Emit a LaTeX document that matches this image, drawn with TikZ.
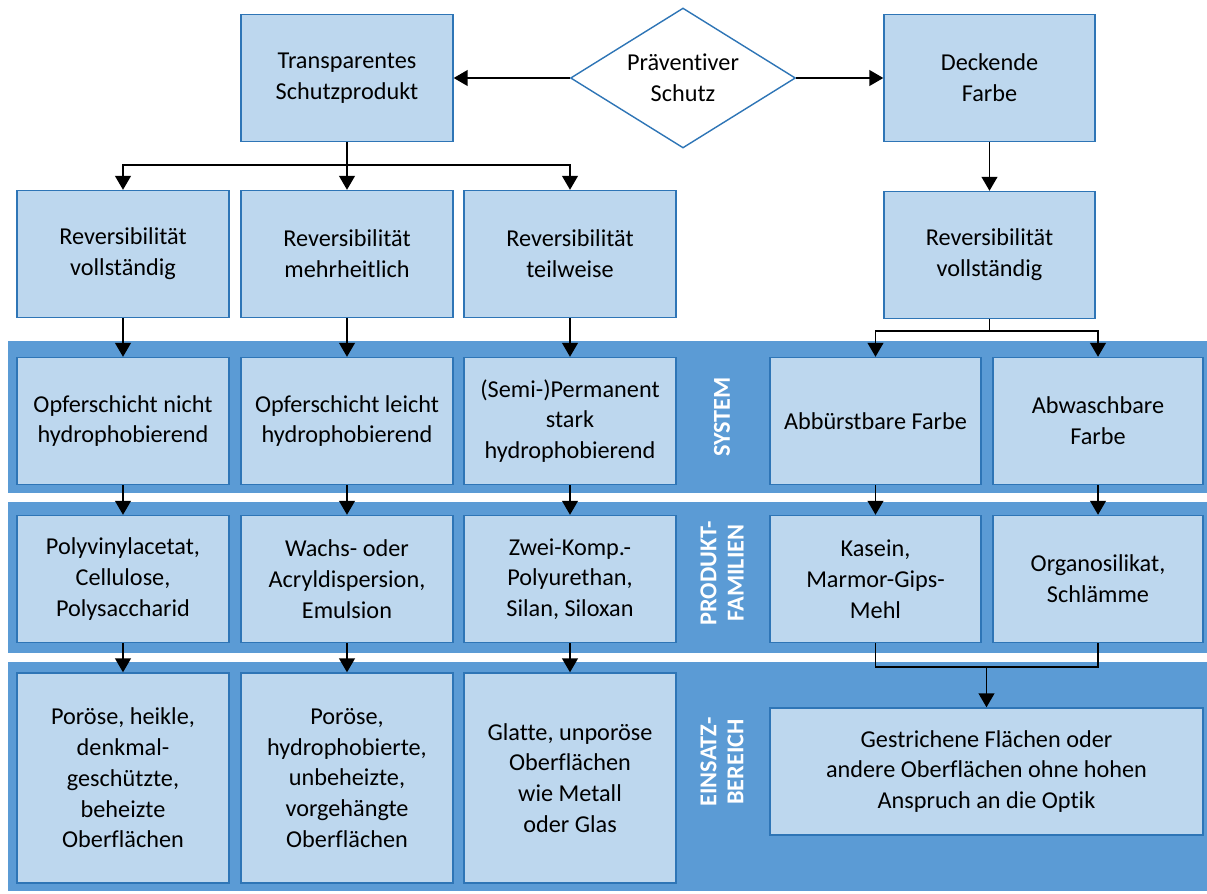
\documentclass[tikz,border=0pt]{standalone}
\usepackage{fontspec}
\setmainfont{Carlito}[Ligatures=NoCommon]
\usetikzlibrary{shapes.geometric, arrows.meta, positioning}
\definecolor{boxfill}{HTML}{BDD7EE}
\definecolor{boxline}{HTML}{2E75B6}
\definecolor{bandfill}{HTML}{5B9BD5}

\begin{document}
\begin{tikzpicture}[x=0.02cm, y=-0.02cm,
  every node/.style={font=\fontsize{13.8}{17.5}\selectfont, align=center},
  box/.style={draw=boxline, fill=boxfill, line width=0.8pt, minimum width=4.24cm, minimum height=2.54cm, inner sep=2pt},
  bandlabel/.style={text=white, font=\bfseries\fontsize{13.8}{15.5}\selectfont, rotate=90},
  arr/.style={-{Triangle[length=8pt, width=9pt]}, line width=1.1pt},
  link/.style={line width=1.1pt}]
  \useasboundingbox (0,0) rectangle (1207,893);

  % Hintergrundbaender
  \fill[bandfill] (8,341) rectangle (1207,493);
  \fill[bandfill] (8,502) rectangle (1207,653);
  \fill[bandfill] (8,662) rectangle (1207,891);
  \node (lblsys) [bandlabel] at (722,417) {SYSTEM};
  \node (lblfam) [bandlabel] at (722,573) {PRODUKT-\\FAMILIEN};
  \node (lbleins) [bandlabel] at (722,762) {EINSATZ-\\BEREICH};

  % oberste Ebene
  \node (praev) [draw=boxline, fill=white, line width=0.8pt, shape=diamond, aspect=1.6, inner sep=0pt, minimum width=4.5cm, minimum height=2.8cm] at (683,78) {Präventiver\\Schutz};
  \node (trans) [box] at (347,78) {Transparentes\\Schutzprodukt};
  \node (deck) [box, minimum width=4.22cm] at (989.5,78) {Deckende\\Farbe};

  % Reversibilitaet
  \node (rev1) [box] at (123,254) {Reversibilität\\vollständig};
  \node (rev2) [box] at (347,254) {Reversibilität\\mehrheitlich};
  \node (rev3) [box] at (570,254) {Reversibilität\\teilweise};
  \node (revD) [box, minimum width=4.22cm] at (989.5,255) {Reversibilität\\vollständig};

  % System
  \node (opf1) [box] at (123,421) {Opferschicht nicht\\hydrophobierend};
  \node (opf2) [box] at (347,421) {Opferschicht leicht\\hydrophobierend};
  \node (perm) [box] at (570,421) {(Semi-)Permanent\\stark\\hydrophobierend};
  \node (abb) [box, minimum width=4.22cm] at (875.5,421) {Abbürstbare Farbe};
  \node (abw) [box, minimum width=4.2cm] at (1098,421) {Abwaschbare\\Farbe};

  % Produktfamilien
  \node (poly) [box] at (123,579) {Polyvinylacetat,\\Cellulose,\\Polysaccharid};
  \node (wachs) [box] at (347,579) {Wachs- oder\\Acryldispersion,\\Emulsion};
  \node (zwei) [box] at (570,579) {Zwei-Komp.-\\Polyurethan,\\Silan, Siloxan};
  \node (kasein) [box, minimum width=4.22cm] at (875.5,579) {Kasein,\\Marmor-Gips-\\Mehl};
  \node (organo) [box, minimum width=4.2cm] at (1098,579) {Organosilikat,\\Schlämme};

  % Einsatzbereich
  \node (por1) [box, minimum height=4.2cm] at (123,778) {Poröse, heikle,\\denkmal-\\geschützte,\\beheizte\\Oberflächen};
  \node (por2) [box, minimum height=4.2cm] at (347,778) {Poröse,\\hydrophobierte,\\unbeheizte,\\vorgehängte\\Oberflächen};
  \node (glatt) [box, minimum height=4.2cm] at (570,778) {Glatte, unporöse\\Oberflächen\\wie Metall\\oder Glas};
  \node (gestr) [box, minimum width=8.66cm] at (986.5,771.5) {Gestrichene Flächen oder\\andere Oberflächen ohne hohen\\Anspruch an die Optik};

  % Verbindungen
  \coordinate (split) at (347,165);
  \coordinate (merge) at (986.5,667);
  \draw[arr] (praev.west) -- (trans.east);
  \draw[arr] (praev.east) -- (deck.west);
  \draw[link] (trans.south) -- (split);
  \draw[arr] (split) -| (rev1.north);
  \draw[arr] (split) -- (rev2.north);
  \draw[arr] (split) -| (rev3.north);
  \draw[arr] (deck) -- (revD);
  \draw[arr] (revD.south) -- ++(0,12) -| (abb.north);
  \draw[arr] (revD.south) -- ++(0,12) -| (abw.north);
  \draw[arr] (rev1) -- (opf1);
  \draw[arr] (rev2) -- (opf2);
  \draw[arr] (rev3) -- (perm);
  \draw[arr] (opf1) -- (poly);
  \draw[arr] (opf2) -- (wachs);
  \draw[arr] (perm) -- (zwei);
  \draw[arr] (abb) -- (kasein);
  \draw[arr] (abw) -- (organo);
  \draw[arr] (poly) -- (por1);
  \draw[arr] (wachs) -- (por2);
  \draw[arr] (zwei) -- (glatt);
  \draw[link] (kasein.south) |- (merge);
  \draw[link] (organo.south) |- (merge);
  \draw[arr] (merge) -- (gestr.north);
\end{tikzpicture}
\end{document}
